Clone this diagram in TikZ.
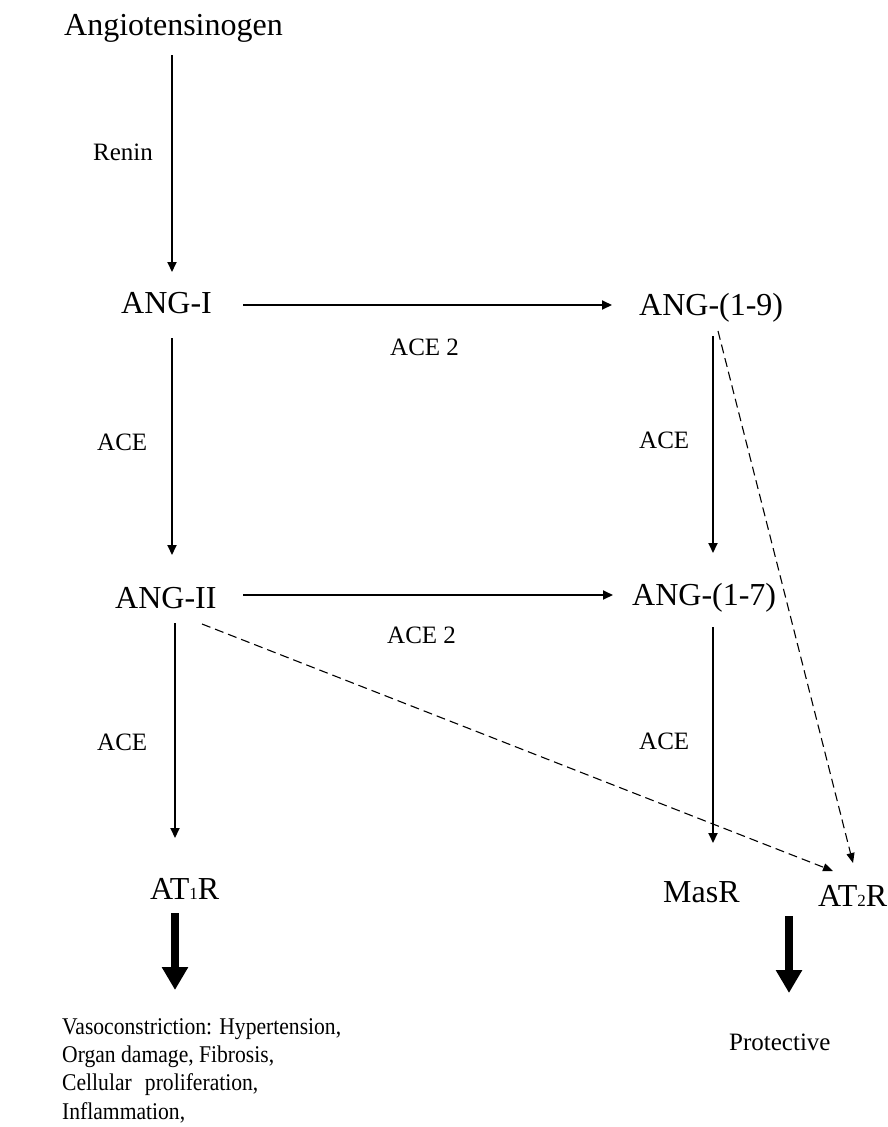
\documentclass[tikz,border=0pt]{standalone}
\usepackage{fontspec}
\setmainfont{Liberation Serif}
\newfontfamily\narrowserif[FakeStretch=0.9]{Liberation Serif}
\usetikzlibrary{arrows.meta}
\newcommand{\subsmall}[1]{{\fontsize{17}{17}\selectfont #1}}
\begin{document}
\begin{tikzpicture}[x=1pt,y=-1pt,
  big/.style={font=\fontsize{32}{38}\selectfont, inner sep=0pt, anchor=base west},
  lbl/.style={font=\fontsize{25}{30}\selectfont, inner sep=0pt, anchor=base west},
  arr/.style={line width=1.9pt, -{Triangle[length=10pt,width=9pt]}},
  darr/.style={line width=1.1pt, dash pattern=on 9pt off 5pt, -{Triangle[length=10pt,width=8pt]}},
  fat/.style={line width=8pt, -{Triangle[length=23pt,width=25pt]}}]
\useasboundingbox (0,0) rectangle (888,1127);
\fill[white] (0,0) rectangle (888,1127);

% nodes
\node[big, anchor=base] (agt) at (173.5,35) {Angiotensinogen};
\node[big] (ang1) at (121,313) {ANG-I};
\node[big] (ang19) at (639,315) {ANG-(1-9)};
\node[big] (ang2) at (115,608) {ANG-II};
\node[big] (ang17) at (632,605) {ANG-(1-7)};
\node[big] (at1r) at (150,899) {AT\subsmall{1}R};
\node[big] (masr) at (663,902) {MasR};
\node[big] (at2r) at (818,906) {AT\subsmall{2}R};

\node[lbl] (renin) at (93,160) {Renin};
\node[lbl] (ace2a) at (390,355) {ACE 2};
\node[lbl] (acea) at (97,450) {ACE};
\node[lbl] (aceb) at (639,448) {ACE};
\node[lbl] (ace2b) at (387,643) {ACE 2};
\node[lbl] (acec) at (97,750) {ACE};
\node[lbl] (aced) at (639,749) {ACE};
\node[lbl] (prot) at (729,1050) {Protective};
\node[inner sep=0pt, anchor=base west, align=left,
      font=\narrowserif\fontsize{24}{28.2}\selectfont] (eff) at (62,1119)
  {Vasoconstriction: Hypertension,\\Organ damage, Fibrosis,\\Cellular\hspace{0.55em}proliferation,\\Inflammation,};

% connector end points
\coordinate (s1) at (172,55);   \coordinate (e1) at (172,272);
\coordinate (s2) at (243,305);  \coordinate (e2) at (612,305);
\coordinate (s3) at (172,338);  \coordinate (e3) at (172,555);
\coordinate (s4) at (713,336);  \coordinate (e4) at (713,553);
\coordinate (s5) at (243,595);  \coordinate (e5) at (613,595);
\coordinate (s6) at (175,623);  \coordinate (e6) at (175,838);
\coordinate (s7) at (713,627);  \coordinate (e7) at (713,843);
\coordinate (s8) at (202,624);  \coordinate (e8) at (833,871);
\coordinate (s9) at (718,331);  \coordinate (e9) at (853,863);
\coordinate (s10) at (175,913); \coordinate (e10) at (175,990);
\coordinate (s11) at (789,916); \coordinate (e11) at (789,993);

% connectors
\draw[arr] (s1) -- (e1);
\draw[arr] (s2) -- (e2);
\draw[arr] (s3) -- (e3);
\draw[arr] (s4) -- (e4);
\draw[arr] (s5) -- (e5);
\draw[arr] (s6) -- (e6);
\draw[arr] (s7) -- (e7);
\draw[darr] (s8) -- (e8);
\draw[darr] (s9) -- (e9);
\draw[fat] (s10) -- (e10);
\draw[fat] (s11) -- (e11);
\end{tikzpicture}
\end{document}
